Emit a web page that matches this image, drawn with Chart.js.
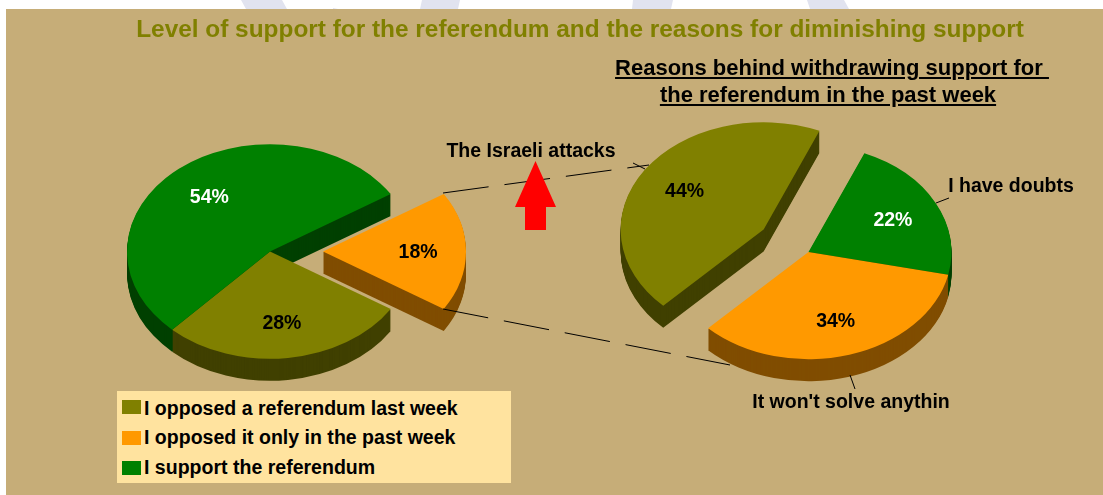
<!DOCTYPE html>
<html>
<head>
<meta charset="utf-8">
<script src="https://cdn.jsdelivr.net/npm/chart.js@4"></script>
<style>
html,body{margin:0;padding:0;background:#fff;width:1103px;height:495px;overflow:hidden;font-family:"Liberation Sans",Arial,sans-serif;}
#stage{position:relative;width:1103px;height:495px;overflow:hidden;}
#panel{position:absolute;left:6px;top:9px;right:0;bottom:0;background:#C6AD78;}
#mark{position:absolute;left:0;top:0;}
canvas.pie{position:absolute;left:0;top:0;}
.t{position:absolute;white-space:nowrap;font-weight:bold;color:#000;transform:translate(-50%,-50%);line-height:1;}
#title{left:580px;top:29px;font-size:24.4px;color:#808000;}
.sub{font-size:22px;text-decoration:underline;white-space:pre;}
.call{font-size:19.5px;}
#legend{position:absolute;left:117px;top:391px;width:394px;height:92px;background:#FFE39F;}
.lg{position:absolute;left:5px;height:14px;}
.lg i{position:absolute;left:0;top:0;width:19px;height:14px;}
.lg span{position:absolute;left:22px;top:7px;transform:translateY(-50%);white-space:nowrap;font-weight:bold;font-size:19.55px;line-height:1;}
</style>
</head>
<body>
<div id="stage">
  <svg id="mark" width="1103" height="10"><g fill="#E1E3EF">
    <polygon points="241,0 282,0 287,9 246,9"/>
    <polygon points="333,8 338,9 333,9"/>
    <polygon points="422,0 460,0 458,9 420,9"/>
    <polygon points="633,0 673,0 671,9 632,9"/>
    <polygon points="807,0 844,0 849,9 810,9"/>
  </g></svg>
  <div id="panel"></div>
  <canvas class="pie" id="leftPie" width="1103" height="495"></canvas>
  <canvas class="pie" id="rightPie" width="1103" height="495"></canvas>
  <div class="t" id="title"></div>
  <div class="t sub" id="sub1" style="left:832px;top:68px"></div>
  <div class="t sub" id="sub2" style="left:828px;top:95px"></div>
  <div id="legend"></div>
</div>
<script>
const chartTitle = 'Level of support for the referendum and the reasons for diminishing support';
const subTitleLines = ['Reasons behind withdrawing support for ', 'the referendum in the past week'];

const supportLabels = ['I opposed it only in the past week', 'I opposed a referendum last week', 'I support the referendum'];
const supportValues = [18, 28, 54];
const supportColors = ['#FF9900', '#808000', '#008000'];
const supportSides  = ['#804D00', '#404000', '#004000'];
const supportExplode = [53, 0, 0];
const supportTextColors = ['#000', '#000', '#fff'];

const reasonLabels = ['I have doubts', "It won't solve anythin", 'The Israeli attacks'];
const reasonValues = [22, 34, 44];
const reasonColors = ['#008000', '#FF9900', '#808000'];
const reasonSides  = ['#004000', '#804D00', '#404000'];
const reasonExplode = [0, 0, 54];
const reasonTextColors = ['#fff', '#000', '#000'];

const legendOrder = [1, 0, 2];
const squash = 0.75, depth = 22, labelRatio = 0.665;

document.getElementById('title').textContent = chartTitle;
document.getElementById('sub1').textContent = subTitleLines[0];
document.getElementById('sub2').textContent = subTitleLines[1];

const calloutSpots = [[1011, 186], [851, 402], [531, 151]];
reasonLabels.forEach((txt, i) => {
  const d = document.createElement('div');
  d.className = 't call';
  d.style.left = calloutSpots[i][0] + 'px';
  d.style.top = calloutSpots[i][1] + 'px';
  d.textContent = txt;
  document.getElementById('stage').appendChild(d);
});
const legendTops = [9, 40, 70];
const legendTextShift = [2, 0, 0];
legendOrder.forEach((k, row) => {
  const r = document.createElement('div');
  r.className = 'lg';
  r.style.top = legendTops[row] + 'px';
  const sw = document.createElement('i');
  sw.style.background = supportColors[k];
  const s = document.createElement('span');
  s.textContent = supportLabels[k];
  s.style.top = (7 + legendTextShift[row]) + 'px';
  r.appendChild(sw); r.appendChild(s);
  document.getElementById('legend').appendChild(r);
});

// Draws the pie elements flattened into an ellipse, each exploded slice pushed out along its
// mid angle, with stacked darker layers as the side wall.
const tiltPlugin = {
  id: 'tilt',
  beforeDatasetDraw(chart, args, opts) {
    const ctx = chart.ctx;
    const arcs = chart.getDatasetMeta(args.index).data;
    const paint = (dy, colors) => {
      arcs.forEach((arc, i) => {
        const saved = arc.options;
        const mid = (arc.startAngle + arc.endAngle) / 2;
        ctx.save();
        ctx.translate(arc.x, arc.y + dy);
        ctx.scale(1, squash);
        ctx.translate(Math.cos(mid) * opts.explode[i], Math.sin(mid) * opts.explode[i]);
        ctx.translate(-arc.x, -arc.y);
        arc.options = {...saved, backgroundColor: colors[i], borderWidth: 0};
        arc.draw(ctx);
        arc.options = saved;
        ctx.restore();
      });
    };
    for (let d = depth; d >= 1; d--) paint(d, opts.sides);
    paint(0, opts.tops);
    return false;
  },
  afterDatasetsDraw(chart, args, opts) {
    const ctx = chart.ctx;
    const meta = chart.getDatasetMeta(0);
    const values = chart.data.datasets[0].data;
    const total = values.reduce((a, b) => a + b, 0);
    ctx.save();
    ctx.font = 'bold 19.5px "Liberation Sans", Arial, sans-serif';
    ctx.textAlign = 'center';
    ctx.textBaseline = 'middle';
    meta.data.forEach((arc, i) => {
      const mid = (arc.startAngle + arc.endAngle) / 2;
      const r = arc.outerRadius * labelRatio + opts.explode[i];
      ctx.fillStyle = opts.text[i];
      ctx.fillText(Math.round(values[i] / total * 100) + '%',
        arc.x + Math.cos(mid) * r,
        arc.y + Math.sin(mid) * r * squash + 1.5);
    });
    ctx.restore();
  }
};

// Connector lines, leaders and the red arrow sit on top of both pies.
const overlayPlugin = {
  id: 'overlay',
  afterDraw(chart) {
    const ctx = chart.ctx;
    ctx.save();
    ctx.strokeStyle = '#000';
    ctx.lineWidth = 1;
    ctx.setLineDash([46, 16]);
    ctx.beginPath(); ctx.moveTo(443, 193); ctx.lineTo(649, 165); ctx.stroke();
    ctx.beginPath(); ctx.moveTo(443, 309); ctx.lineTo(730, 365); ctx.stroke();
    ctx.setLineDash([]);
    ctx.beginPath(); ctx.moveTo(633, 163); ctx.lineTo(645, 169); ctx.stroke();
    ctx.beginPath(); ctx.moveTo(936, 203); ctx.lineTo(949, 198); ctx.stroke();
    ctx.beginPath(); ctx.moveTo(850, 375); ctx.lineTo(855, 389); ctx.stroke();
    ctx.fillStyle = '#FF0000';
    ctx.beginPath();
    ctx.moveTo(535.5, 161); ctx.lineTo(556, 207); ctx.lineTo(546, 207); ctx.lineTo(546, 230);
    ctx.lineTo(525, 230); ctx.lineTo(525, 207); ctx.lineTo(515, 207);
    ctx.closePath(); ctx.fill();
    ctx.restore();
  }
};

// The chart area is a square centred on the pie, with 2 x radius as its side.
function areaPadding(cx, cy, side) {
  return { left: cx - side / 2, right: 1103 - cx - side / 2, top: cy - side / 2, bottom: 495 - cy - side / 2 };
}
function pie(id, labels, values, colors, sides, explode, text, rotation, cx, cy, extra) {
  return new Chart(document.getElementById(id), {
    type: 'pie',
    data: { labels, datasets: [{ data: values, backgroundColor: colors, borderWidth: 0, hoverOffset: 0 }] },
    options: {
      responsive: false,
      animation: false,
      devicePixelRatio: 1,
      rotation,
      layout: { padding: areaPadding(cx, cy, 286) },
      plugins: {
        legend: { display: false },
        title: { display: false },
        tooltip: { enabled: false },
        tilt: { tops: colors, sides, explode, text }
      }
    },
    plugins: [tiltPlugin].concat(extra)
  });
}
pie('leftPie', supportLabels, supportValues, supportColors, supportSides, supportExplode, supportTextColors, 57.6, 270, 251.5, []);
pie('rightPie', reasonLabels, reasonValues, reasonColors, reasonSides, reasonExplode, reasonTextColors, 23, 808.5, 252, [overlayPlugin]);
</script>
</body>
</html>
